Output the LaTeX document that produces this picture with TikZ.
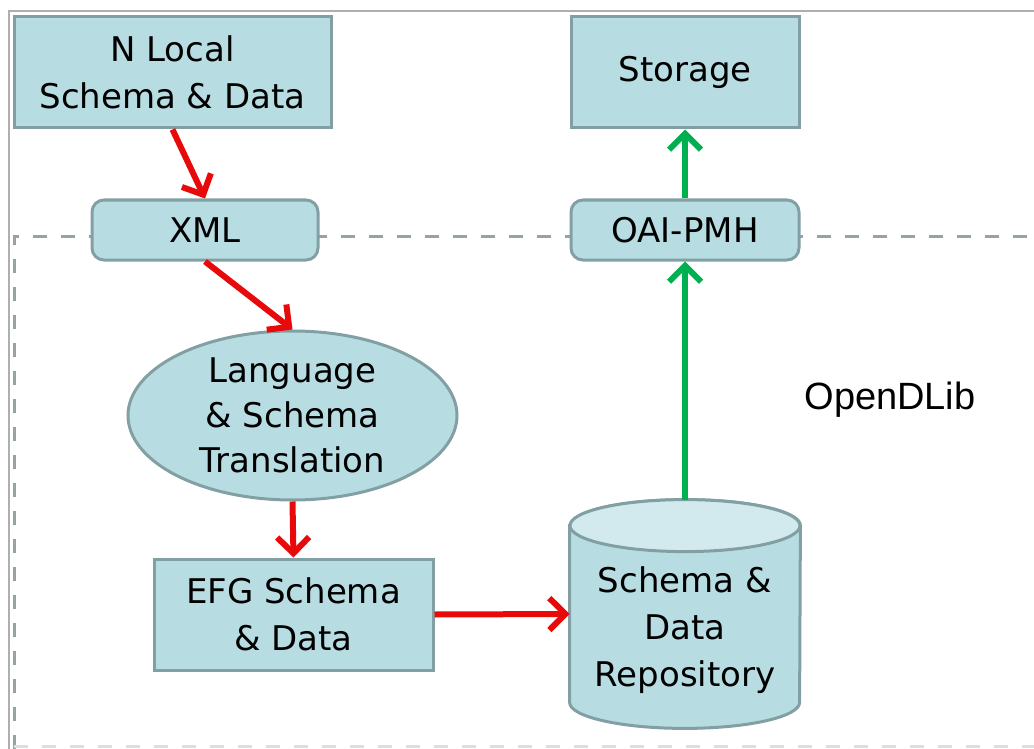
\documentclass[tikz,border=0pt]{standalone}
\usepackage{fontspec}
\setmainfont{DejaVu Sans}
\newfontfamily\arialfont{Liberation Sans}
\usepackage{tikz}
\usetikzlibrary{shapes.geometric, arrows.meta, positioning, calc}
\definecolor{boxfill}{RGB}{183,221,227}
\definecolor{boxline}{RGB}{130,160,164}
\definecolor{topfill}{RGB}{210,234,238}
\definecolor{red1}{RGB}{232,10,10}
\definecolor{green1}{RGB}{0,176,80}
\definecolor{dashgray}{RGB}{150,163,163}
\definecolor{framegray}{RGB}{175,175,175}

\begin{document}
\begin{tikzpicture}[x=0.5pt, y=-0.5pt,
  box/.style={draw=boxline, fill=boxfill, line width=1.5pt, align=center, inner sep=0pt,
    font=\fontsize{17}{23.5}\selectfont},
  roundbox/.style={box, rounded corners=6pt},
  flowred/.style={draw=red1, line width=3pt, -{Straight Barb[length=8pt, width=16pt]}},
  flowgreen/.style={draw=green1, line width=3pt, -{Straight Barb[length=8pt, width=16pt]}},
  dashline/.style={draw=dashgray, line width=1.5pt, dash pattern=on 7pt off 7pt}
]
\useasboundingbox (0,0) rectangle (1034,749);

% frame and OpenDLib boundary
\draw[framegray, line width=1pt] (9,749) -- (9,11) -- (1034,11);
\draw[dashline] (14,749) |- (1034,236);
\draw[dashline, draw=dashgray!35] (14,746) -- (1034,746);

% outside
\node[box, minimum width=158.5pt, minimum height=55.5pt] (local) at (172.5,72.5) {N Local\\Schema \& Data};
\node[box, minimum width=114pt, minimum height=55.5pt] (storage) at (685,72.5) {Storage};

% on the boundary
\node[roundbox, minimum width=113pt, minimum height=30pt] (xml) at (205,230) {XML};
\node[roundbox, minimum width=114pt, minimum height=30pt] (oai) at (685,230) {OAI-PMH};

% inside OpenDLib
\node[box, ellipse, minimum width=164.5pt, minimum height=84.5pt,
  font=\fontsize{17}{22.5}\selectfont] (lang) at (292.5,415.5) {Language\\\& Schema\\Translation};
\node[box, minimum width=139.5pt, minimum height=55.5pt] (efg) at (293.5,614.5) {EFG Schema\\\& Data};
\node[minimum width=115pt, minimum height=114pt, inner sep=0pt] (repo) at (685,614) {};
\fill[boxfill, draw=boxline, line width=1.5pt]
  ($(repo.north west)+(0,26)$) -- ($(repo.south west)+(0,-26)$)
  arc[start angle=180, end angle=360, x radius=57.5pt, y radius=13pt]
  -- ($(repo.north east)+(0,26)$)
  arc[start angle=0, end angle=180, x radius=57.5pt, y radius=13pt] -- cycle;
\filldraw[fill=topfill, draw=boxline, line width=1.5pt]
  ($(repo.north)+(0,26)$) ellipse[x radius=57.5pt, y radius=13pt];
\node[align=center, font=\fontsize{17}{23.5}\selectfont] (repotext) at (685,630) {Schema \&\\Data\\Repository};
\node[font=\arialfont\fontsize{19}{22}\selectfont] (odl) at (890,400) {OpenDLib};

% flows
\draw[flowred] (local.south) -- (xml.north);
\draw[flowred] (xml.south) -- (lang.north);
\draw[flowred] (lang.south) -- (efg.north);
\draw[flowred] (efg.east) -- (repo.west);
\draw[flowgreen] (repo.north) -- (oai.south);
\draw[flowgreen] (oai.north) -- (storage.south);
\end{tikzpicture}
\end{document}
